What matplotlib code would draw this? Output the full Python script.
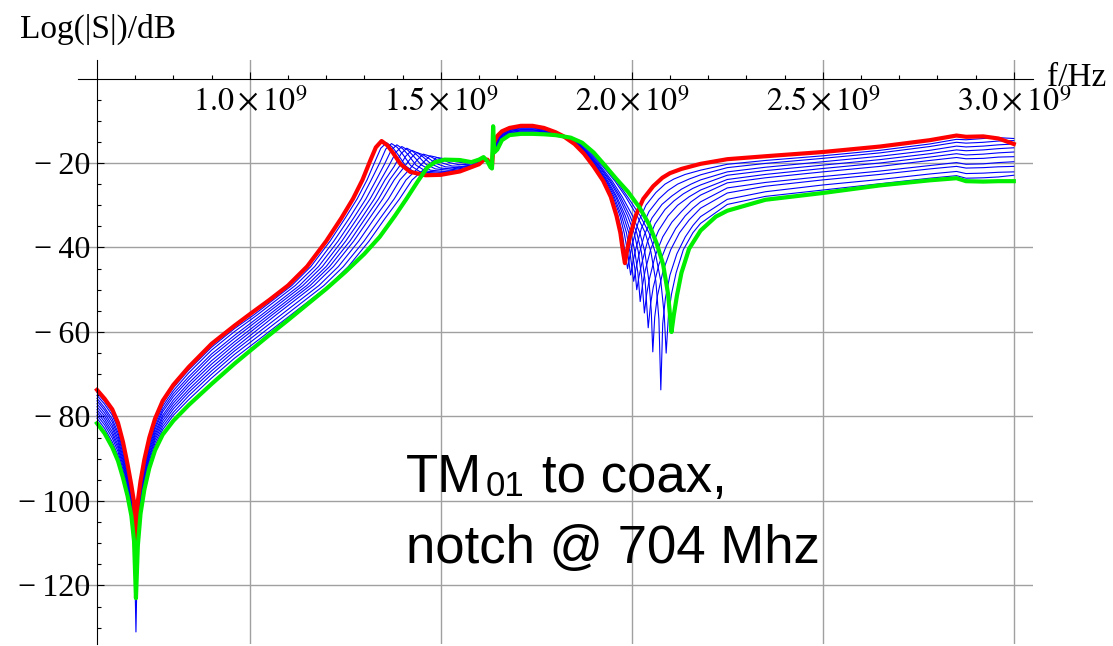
import matplotlib
matplotlib.use('Agg')
import numpy as np
import matplotlib.pyplot as plt
from matplotlib import font_manager

# ---------------- data (frequency in GHz, |S| in dB) ----------------
# shared frequency grid, low-frequency part incl. 704 MHz notch
LEFT_F = [0.600, 0.620, 0.640, 0.655, 0.668, 0.680, 0.690, 0.697, 0.702, 0.707,
          0.714, 0.724, 0.737, 0.752, 0.772, 0.800, 0.840, 0.900, 0.960]
RED_LEFT = [-73.7, -75.8, -78.3, -81.5, -86.0, -91.3, -96.3, -100.3, -112.0, -100.0,
            -95.3, -90.2, -85.0, -80.5, -76.3, -72.5, -68.3, -62.8, -58.5]
GREEN_LEFT = [-81.6, -84.0, -87.3, -90.5, -94.5, -98.8, -103.5, -109.5, -123.0, -110.5,
              -103.0, -97.3, -92.2, -88.0, -84.3, -81.0, -77.3, -72.3, -67.5]
BLUE_LEFT = [
    [-74.3, -76.5, -79.0, -82.2, -86.7, -91.9, -96.9, -101.0, -106.0, -100.8, -95.9, -90.8, -85.6, -81.1, -76.9, -73.2, -69.0, -63.6, -59.2],
    [-75.0, -77.1, -79.7, -82.9, -87.4, -92.5, -97.5, -101.8, -108.0, -101.7, -96.5, -91.3, -86.2, -81.7, -77.6, -73.9, -69.7, -64.3, -59.9],
    [-75.7, -77.9, -80.6, -83.8, -88.1, -93.2, -98.1, -102.6, -110.0, -102.6, -97.2, -92.0, -86.8, -82.4, -78.3, -74.6, -70.6, -65.2, -60.8],
    [-76.3, -78.5, -81.3, -84.5, -88.8, -93.8, -98.7, -103.3, -112.0, -103.5, -97.8, -92.5, -87.4, -83.0, -78.9, -75.3, -71.3, -65.9, -61.5],
    [-77.0, -79.2, -82.1, -85.3, -89.6, -94.5, -99.3, -104.2, -114.0, -104.4, -98.5, -93.2, -88.0, -83.7, -79.7, -76.1, -72.1, -66.8, -62.3],
    [-77.7, -79.9, -82.8, -86.0, -90.3, -95.1, -99.9, -104.9, -116.0, -105.3, -99.2, -93.8, -88.6, -84.3, -80.3, -76.8, -72.8, -67.6, -63.0],
    [-78.4, -80.6, -83.6, -86.8, -91.0, -95.7, -100.6, -105.7, -118.0, -106.2, -99.8, -94.4, -89.3, -84.9, -81.0, -77.5, -73.6, -68.4, -63.8],
    [-79.0, -81.3, -84.3, -87.5, -91.7, -96.3, -101.1, -106.5, -131.0, -107.0, -100.5, -95.0, -89.8, -85.5, -81.7, -78.2, -74.3, -69.2, -64.5],
    [-79.7, -82.0, -85.1, -88.3, -92.5, -97.0, -101.8, -107.3, -120.0, -108.0, -101.2, -95.6, -90.5, -86.2, -82.4, -79.0, -75.1, -70.0, -65.3],
    [-80.4, -82.8, -86.0, -89.2, -93.2, -97.7, -102.4, -108.1, -121.0, -108.9, -101.9, -96.2, -91.1, -86.9, -83.1, -79.7, -76.0, -70.9, -66.2],
]

# rising edge, first resonance and trough (own frequencies per curve)
RED_MID = [(1.000, -55.8), (1.050, -52.5), (1.100, -49.0), (1.150, -44.5), (1.200, -38.5),
           (1.240, -33.0), (1.270, -28.5), (1.295, -24.0), (1.315, -19.5), (1.330, -16.3),
           (1.345, -14.8), (1.360, -15.8), (1.375, -17.6), (1.395, -20.3), (1.420, -22.1),
           (1.460, -22.9), (1.500, -22.8), (1.550, -22.0)]
GREEN_MID = [(1.000, -64.5), (1.050, -60.8), (1.100, -57.2), (1.150, -53.5), (1.200, -49.8),
             (1.250, -45.8), (1.300, -41.5), (1.340, -37.5), (1.380, -32.5), (1.410, -28.5),
             (1.440, -24.3), (1.465, -21.0), (1.485, -19.8), (1.510, -19.2), (1.550, -19.3),
             (1.580, -19.8)]
BLUE_MID = [
    [(1.010, -56.0), (1.060, -52.5), (1.110, -49.0), (1.160, -44.5), (1.210, -38.5), (1.250, -33.0), (1.281, -28.5), (1.307, -24.0), (1.327, -19.8), (1.343, -16.5), (1.358, -15.2), (1.373, -16.2), (1.388, -18.0), (1.408, -20.7), (1.433, -22.3), (1.475, -22.7), (1.520, -22.4), (1.555, -21.8)],
    [(1.019, -56.0), (1.069, -52.5), (1.119, -49.0), (1.170, -44.5), (1.220, -38.5), (1.261, -33.0), (1.292, -28.5), (1.318, -24.0), (1.340, -20.0), (1.356, -16.7), (1.371, -15.4), (1.386, -16.3), (1.401, -18.0), (1.421, -20.6), (1.446, -22.1), (1.490, -22.4), (1.530, -22.2), (1.562, -21.5)],
    [(1.030, -56.0), (1.080, -52.5), (1.130, -49.0), (1.180, -44.5), (1.231, -38.5), (1.272, -33.0), (1.304, -28.5), (1.331, -24.0), (1.353, -20.2), (1.370, -17.0), (1.385, -15.7), (1.400, -16.6), (1.415, -18.1), (1.435, -20.5), (1.460, -21.9), (1.500, -22.2), (1.540, -21.9), (1.570, -21.2)],
    [(1.039, -56.0), (1.089, -52.5), (1.139, -49.0), (1.190, -44.5), (1.241, -38.5), (1.282, -33.0), (1.315, -28.5), (1.343, -24.0), (1.365, -20.5), (1.383, -17.4), (1.398, -16.1), (1.413, -16.9), (1.428, -18.3), (1.448, -20.4), (1.473, -21.7), (1.510, -22.0), (1.550, -21.6), (1.578, -21.0)],
    [(1.049, -56.0), (1.099, -52.5), (1.149, -49.0), (1.200, -44.5), (1.251, -38.5), (1.293, -33.0), (1.326, -28.5), (1.354, -24.0), (1.378, -20.8), (1.396, -17.8), (1.411, -16.5), (1.426, -17.2), (1.441, -18.4), (1.461, -20.3), (1.486, -21.4), (1.520, -21.7), (1.560, -21.2), (1.585, -20.7)],
    [(1.058, -56.0), (1.108, -52.5), (1.158, -49.0), (1.209, -44.5), (1.262, -38.5), (1.303, -33.0), (1.337, -28.5), (1.366, -24.0), (1.390, -21.0), (1.409, -18.3), (1.424, -17.0), (1.439, -17.6), (1.454, -18.6), (1.474, -20.2), (1.499, -21.2), (1.530, -21.4), (1.565, -20.9), (1.588, -20.5)],
    [(1.068, -56.0), (1.118, -52.5), (1.168, -49.0), (1.219, -44.5), (1.272, -38.5), (1.314, -33.0), (1.348, -28.5), (1.378, -24.0), (1.402, -21.2), (1.422, -18.8), (1.437, -17.5), (1.452, -18.0), (1.467, -18.8), (1.487, -20.1), (1.512, -20.9), (1.540, -21.1), (1.570, -20.7), (1.590, -20.4)],
    [(1.081, -56.0), (1.131, -52.5), (1.181, -49.0), (1.232, -44.5), (1.285, -38.5), (1.327, -33.0), (1.363, -28.5), (1.393, -24.0), (1.419, -21.4), (1.439, -19.2), (1.454, -17.9), (1.469, -18.3), (1.484, -19.0), (1.504, -20.0), (1.529, -20.7), (1.555, -20.8), (1.580, -20.5)],
    [(1.094, -56.0), (1.144, -52.5), (1.194, -49.0), (1.245, -44.5), (1.299, -38.5), (1.342, -33.0), (1.378, -28.5), (1.409, -24.0), (1.436, -21.6), (1.457, -19.6), (1.472, -18.3), (1.487, -18.6), (1.502, -19.1), (1.522, -19.9), (1.547, -20.4), (1.575, -20.3)],
    [(1.107, -56.0), (1.157, -52.5), (1.207, -49.0), (1.258, -44.5), (1.312, -38.5), (1.355, -33.0), (1.392, -28.5), (1.425, -24.0), (1.452, -21.8), (1.474, -20.0), (1.489, -18.7), (1.504, -18.9), (1.519, -19.2), (1.539, -19.7), (1.564, -20.0), (1.585, -19.9)],
]

# shared grid around the 1.64 GHz glitch and the plateau
PLAT_F = [1.600, 1.612, 1.622, 1.630, 1.634, 1.637, 1.640, 1.648, 1.660, 1.680, 1.710, 1.740, 1.770, 1.800]
RED_PLAT = [-20.3, -19.3, -19.2, -20.3, -20.8, -17.0, -15.0, -13.6, -12.5, -11.7, -11.2, -11.2, -11.7, -12.7]
GREEN_PLAT = [-19.2, -18.6, -19.6, -21.0, -21.3, -11.3, -17.5, -16.8, -14.6, -13.4, -13.1, -13.1, -13.2, -13.4]
BLUE_PLAT = [
    [-20.3, -19.2, -19.2, -20.4, -20.8, -17.0, -15.2, -13.9, -12.7, -11.9, -11.4, -11.4, -11.8, -12.8],
    [-20.2, -19.2, -19.3, -20.4, -20.9, -17.0, -15.4, -14.2, -12.9, -12.0, -11.5, -11.5, -12.0, -12.8],
    [-20.2, -19.1, -19.3, -20.5, -20.9, -17.0, -15.6, -14.5, -13.1, -12.2, -11.7, -11.7, -12.1, -12.9],
    [-20.1, -19.1, -19.3, -20.5, -21.0, -16.9, -15.8, -14.8, -13.3, -12.3, -11.9, -11.9, -12.2, -13.0],
    [-20.1, -19.0, -19.4, -20.6, -21.0, -16.9, -16.0, -15.1, -13.5, -12.5, -12.1, -12.1, -12.4, -13.0],
    [-20.0, -19.0, -19.4, -20.6, -21.1, -16.9, -16.3, -15.3, -13.6, -12.6, -12.2, -12.2, -12.5, -13.1],
    [-20.0, -18.9, -19.4, -20.7, -21.1, -16.8, -16.5, -15.6, -13.8, -12.8, -12.4, -12.4, -12.6, -13.1],
    [-19.9, -18.8, -19.5, -20.8, -21.2, -16.8, -16.7, -15.9, -14.0, -12.9, -12.6, -12.6, -12.8, -13.2],
    [-19.8, -18.8, -19.5, -20.8, -21.2, -16.8, -16.9, -16.2, -14.2, -13.1, -12.8, -12.8, -12.9, -13.3],
    [-19.6, -18.7, -19.5, -20.9, -21.2, -16.7, -17.1, -16.5, -14.4, -13.2, -12.9, -12.9, -13.1, -13.3],
]

# falling edge, second notch and recovery (own frequencies per curve)
RED_FALL = [(1.820, -13.6), (1.850, -15.5), (1.875, -17.8), (1.900, -20.8), (1.925, -24.2),
            (1.945, -28.0), (1.960, -32.5), (1.970, -36.5), (1.977, -41.0), (1.982, -43.7),
            (1.988, -40.5), (1.995, -37.5), (2.010, -32.5), (2.030, -28.5), (2.056, -25.5),
            (2.080, -23.5), (2.100, -22.4), (2.130, -21.4), (2.180, -20.2), (2.250, -19.1)]
GREEN_FALL = [(1.840, -14.0), (1.870, -15.2), (1.900, -17.5), (1.930, -20.6), (1.960, -23.8),
              (1.990, -26.8), (2.020, -30.5), (2.045, -34.5), (2.065, -39.0), (2.082, -44.0),
              (2.095, -51.0), (2.104, -60.0), (2.110, -56.0), (2.118, -51.5), (2.130, -46.0),
              (2.150, -40.3), (2.180, -36.0), (2.220, -32.7), (2.250, -31.3)]
BLUE_FALL = [
    [(1.825, -13.9), (1.851, -15.5), (1.902, -20.7), (1.927, -24.3), (1.948, -28.0), (1.964, -32.5), (1.975, -36.5), (1.982, -41.0), (1.989, -45.0), (1.995, -42.0), (2.002, -39.0), (2.017, -34.0), (2.037, -30.0), (2.063, -27.0), (2.087, -25.0), (2.110, -23.8), (2.140, -22.7), (2.180, -21.7), (2.250, -20.3)],
    [(1.825, -13.9), (1.852, -15.5), (1.904, -20.7), (1.930, -24.3), (1.951, -28.0), (1.969, -32.5), (1.980, -36.5), (1.989, -41.0), (1.997, -46.5), (2.003, -43.5), (2.010, -40.5), (2.025, -35.5), (2.045, -31.5), (2.071, -28.5), (2.095, -26.5), (2.120, -25.0), (2.150, -23.8), (2.180, -22.8), (2.250, -21.1)],
    [(1.825, -13.9), (1.854, -15.5), (1.906, -20.7), (1.933, -24.3), (1.954, -28.0), (1.973, -32.5), (1.986, -36.5), (1.995, -41.0), (2.005, -48.0), (2.011, -45.0), (2.018, -42.0), (2.033, -37.0), (2.053, -33.0), (2.079, -29.8), (2.105, -27.8), (2.130, -26.2), (2.155, -25.0), (2.180, -24.0), (2.250, -22.1)],
    [(1.825, -13.9), (1.855, -15.5), (1.908, -20.7), (1.935, -24.3), (1.958, -28.0), (1.978, -32.5), (1.992, -36.5), (2.001, -41.0), (2.008, -45.0), (2.013, -50.0), (2.019, -46.8), (2.026, -43.8), (2.041, -38.6), (2.061, -34.4), (2.087, -31.0), (2.110, -29.0), (2.135, -27.3), (2.160, -26.0), (2.180, -25.2), (2.250, -22.9)],
    [(1.825, -13.9), (1.857, -15.5), (1.910, -20.7), (1.938, -24.3), (1.961, -28.0), (1.983, -32.5), (1.998, -36.5), (2.008, -41.0), (2.016, -46.0), (2.022, -52.8), (2.028, -49.0), (2.035, -45.5), (2.050, -40.3), (2.070, -36.0), (2.095, -32.5), (2.120, -30.0), (2.150, -28.0), (2.180, -26.4), (2.250, -23.9)],
    [(1.825, -13.9), (1.858, -15.5), (1.913, -20.7), (1.942, -24.3), (1.966, -28.0), (1.989, -32.5), (2.006, -36.5), (2.017, -41.0), (2.026, -47.0), (2.033, -55.5), (2.039, -51.0), (2.046, -47.5), (2.061, -42.0), (2.081, -37.5), (2.105, -34.0), (2.130, -31.5), (2.155, -29.2), (2.180, -27.6), (2.250, -24.7)],
    [(1.825, -13.9), (1.860, -15.5), (1.915, -20.7), (1.945, -24.3), (1.970, -28.0), (1.995, -32.5), (2.013, -36.5), (2.025, -41.0), (2.035, -48.0), (2.043, -59.0), (2.049, -53.5), (2.056, -49.5), (2.071, -44.0), (2.091, -39.5), (2.115, -35.5), (2.140, -32.5), (2.160, -30.7), (2.180, -29.2), (2.250, -25.9)],
    [(1.825, -13.9), (1.862, -15.5), (1.918, -20.7), (1.949, -24.3), (1.975, -28.0), (2.002, -32.5), (2.021, -36.5), (2.034, -41.0), (2.045, -48.0), (2.051, -55.0), (2.055, -64.7), (2.060, -56.5), (2.067, -51.5), (2.082, -45.5), (2.102, -40.5), (2.125, -36.5), (2.150, -33.5), (2.180, -30.7), (2.250, -27.1)],
    [(1.825, -13.9), (1.865, -15.5), (1.923, -20.7), (1.956, -24.3), (1.984, -28.0), (2.014, -32.5), (2.035, -36.5), (2.050, -41.0), (2.063, -48.0), (2.071, -57.0), (2.076, -73.7), (2.081, -58.0), (2.088, -52.0), (2.100, -46.5), (2.118, -41.5), (2.140, -37.5), (2.160, -34.8), (2.180, -32.7), (2.250, -28.6)],
    [(1.825, -13.9), (1.868, -15.5), (1.927, -20.7), (1.960, -24.3), (1.989, -28.0), (2.022, -32.5), (2.045, -36.5), (2.061, -41.0), (2.076, -48.0), (2.085, -56.0), (2.090, -65.0), (2.096, -56.0), (2.104, -51.0), (2.116, -46.0), (2.135, -40.5), (2.160, -36.5), (2.180, -34.3), (2.250, -29.8)],
]

# shared grid, high-frequency tail
RIGHT_F = [2.35, 2.50, 2.65, 2.78, 2.85, 2.875, 2.92, 2.96, 3.00]
RED_RIGHT = [-18.4, -17.4, -16.1, -14.6, -13.5, -13.8, -13.7, -14.2, -15.5]
GREEN_RIGHT = [-28.7, -27.1, -25.3, -24.1, -23.6, -24.3, -24.4, -24.3, -24.3]
BLUE_RIGHT = [
    [-19.4, -18.3, -17.0, -15.5, -14.4, -14.5, -14.2, -14.0, -14.2],
    [-20.1, -18.9, -17.6, -16.1, -15.1, -15.3, -15.1, -14.8, -14.7],
    [-21.0, -19.7, -18.4, -17.0, -16.0, -16.2, -16.0, -15.7, -15.5],
    [-21.8, -20.5, -19.2, -17.8, -16.9, -17.1, -16.9, -16.6, -16.4],
    [-22.7, -21.3, -20.0, -18.6, -17.8, -18.1, -17.9, -17.6, -17.4],
    [-23.5, -22.1, -20.8, -19.4, -18.7, -19.0, -18.9, -18.6, -18.5],
    [-24.6, -23.2, -21.9, -20.6, -19.9, -20.3, -20.2, -19.9, -19.7],
    [-25.5, -24.0, -22.7, -21.4, -20.8, -21.2, -21.1, -20.9, -20.8],
    [-26.8, -25.2, -23.9, -22.6, -22.0, -22.5, -22.4, -22.2, -22.1],
    [-27.9, -26.4, -24.9, -23.6, -23.0, -23.6, -23.5, -23.3, -22.9],
]

X_TICKS = [1.0, 1.5, 2.0, 2.5, 3.0]
X_TICK_LABELS = [r'$1.0\times10^{9}$', r'$1.5\times10^{9}$', r'$2.0\times10^{9}$',
                 r'$2.5\times10^{9}$', r'$3.0\times10^{9}$']
Y_TICKS = [-120, -100, -80, -60, -40, -20]


def join(left, mid, plat, fall, right):
    f = LEFT_F + [p[0] for p in mid] + PLAT_F + [p[0] for p in fall] + RIGHT_F
    v = left + [p[1] for p in mid] + plat + [p[1] for p in fall] + right
    return np.array(f) * 1e9, np.array(v)


# ---------------- figure ----------------
plt.rcParams['font.family'] = ['Liberation Serif', 'DejaVu Serif']
plt.rcParams['mathtext.fontset'] = 'stix'

W, H = 1113, 646
fig = plt.figure(figsize=(W / 100, H / 100), dpi=100)
ax = fig.add_axes([78 / W, 2 / H, (1033 - 78) / W, (644 - 60) / H])
ax.set_xlim(0.5503e9, 3.0503e9)
ax.set_ylim(-133.85, 4.38)

for k in range(len(BLUE_LEFT)):
    fx, fy = join(BLUE_LEFT[k], BLUE_MID[k], BLUE_PLAT[k], BLUE_FALL[k], BLUE_RIGHT[k])
    ax.plot(fx, fy, color='#0000ff', lw=0.8, zorder=3)
fx, fy = join(RED_LEFT, RED_MID, RED_PLAT, RED_FALL, RED_RIGHT)
ax.plot(fx, fy, color='#ff0000', lw=3.0, zorder=4, solid_joinstyle='round')
fx, fy = join(GREEN_LEFT, GREEN_MID, GREEN_PLAT, GREEN_FALL, GREEN_RIGHT)
ax.plot(fx, fy, color='#00ee00', lw=3.0, zorder=5, solid_joinstyle='round')

# Mathematica style axes crossing at (0.6e9, 0)
for s in ['top', 'right']:
    ax.spines[s].set_visible(False)
ax.spines['left'].set_position(('data', 0.6e9))
ax.spines['bottom'].set_position(('data', 0))
for s in ['left', 'bottom']:
    ax.spines[s].set_linewidth(0.8)
    ax.spines[s].set_zorder(6)

ax.set_xticks([t * 1e9 for t in X_TICKS])
ax.set_xticklabels(X_TICK_LABELS)
ax.set_xticks([t * 1e8 for t in range(7, 30) if t % 5 != 0], minor=True)
ax.set_yticks(Y_TICKS)
ax.set_yticklabels(['\u2212\u2009' + str(-t) for t in Y_TICKS])
ax.set_yticks([t for t in range(-130, 0, 5) if t % 20 != 0], minor=True)
ax.tick_params(which='both', direction='in', width=0.8)
ax.tick_params(which='major', length=5)
ax.tick_params(which='minor', length=3)
ax.tick_params(axis='x', pad=6, labelsize=23)
ax.tick_params(axis='y', pad=5, labelsize=23)
ax.grid(True, which='major', color='#a0a0a0', lw=1.0, zorder=1)
ax.set_axisbelow(True)

fig.text(20 / W, 1 - 38 / H, 'Log(|S|)/dB', fontsize=24, va='baseline')
fig.text(1047 / W, 1 - 86 / H, 'f/Hz', fontsize=24, va='baseline')

# annotation in a narrow sans face if there is one
try:
    font_manager.findfont('Liberation Sans Narrow', fallback_to_default=False)
    sans, fs = 'Liberation Sans Narrow', 46
except ValueError:
    sans, fs = 'Liberation Sans', 38

x0, b1, b2 = 406, H - 492, H - 563
t1 = fig.text(x0 / W, b1 / H, 'TM', fontsize=fs, family=sans, va='baseline')
fig.canvas.draw()
e1 = t1.get_window_extent()
t2 = fig.text((e1.x1 + 3) / W, (b1 - 4) / H, '01', fontsize=fs * 0.66, family=sans, va='baseline')
fig.canvas.draw()
e2 = t2.get_window_extent()
fig.text((e2.x1 + 18) / W, b1 / H, 'to coax,', fontsize=fs, family=sans, va='baseline')
fig.text(x0 / W, b2 / H, 'notch @ 704 Mhz', fontsize=fs, family=sans, va='baseline')

fig.savefig('out.png', dpi=100)
